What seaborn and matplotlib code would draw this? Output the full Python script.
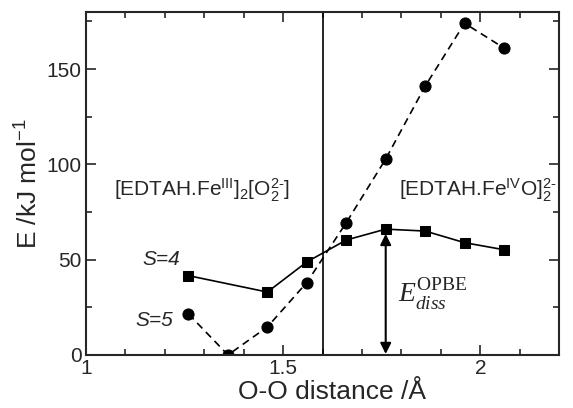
import numpy as np
import pandas as pd
import matplotlib
matplotlib.use("Agg")
import matplotlib.pyplot as plt
from matplotlib.ticker import MultipleLocator, FuncFormatter
import seaborn as sns

# O-O distance (Angstrom) and relative energies (kJ/mol)
dist = [1.26, 1.36, 1.46, 1.56, 1.66, 1.76, 1.86, 1.96, 2.06]
e_s5 = [21.5, 0.0, 14.7, 38.0, 69.4, 102.8, 141.0, 174.0, 161.0]
dist_s4 = [1.26, 1.46, 1.56, 1.66, 1.76, 1.86, 1.96, 2.06]
e_s4 = [41.6, 33.0, 48.8, 60.3, 66.0, 65.0, 58.9, 55.2]

sns.set_style("ticks")
plt.rcParams["font.family"] = ["Liberation Sans", "DejaVu Sans"]
plt.rcParams["mathtext.fontset"] = "custom"
plt.rcParams["mathtext.rm"] = "Liberation Sans"
plt.rcParams["mathtext.it"] = "Liberation Serif:italic"
plt.rcParams["mathtext.sf"] = "Liberation Serif"
plt.rcParams["mathtext.default"] = "rm"

fig = plt.figure(figsize=(5.73, 4.08), dpi=100)
ax = fig.add_axes([0.150, 0.130, 0.826, 0.841])

s5 = pd.DataFrame({"d": dist, "E": e_s5})
s4 = pd.DataFrame({"d": dist_s4, "E": e_s4})
sns.lineplot(data=s5, x="d", y="E", ax=ax, color="black", linestyle=(0, (4.5, 3)),
             lw=1.2, marker="o", markersize=8, markeredgecolor="black")
sns.lineplot(data=s4, x="d", y="E", ax=ax, color="black", lw=1.2,
             marker="s", markersize=7, markeredgecolor="black")

ax.axvline(1.6, color="black", lw=1.2)
ax.annotate("", xy=(1.76, 0.5), xytext=(1.76, 63.5),
            arrowprops=dict(arrowstyle="<|-|>", color="black", lw=1.5,
                            mutation_scale=16, shrinkA=0, shrinkB=0))

ax.text(1.79, 32, r"$\mathit{E}_{\mathit{diss}}^{\mathsf{OPBE}}$", fontsize=20,
        va="center", ha="left")
ax.text(1.24, 50, "S=4", fontstyle="italic", fontsize=15, ha="right", va="center")
ax.text(1.222, 18, "S=5", fontstyle="italic", fontsize=15, ha="right", va="center")
ax.text(1.071, 83, r"[EDTAH.Fe$^{III}$]$_2$[O$_2^{2\text{-}}$]", fontsize=15,
        ha="left", va="baseline")
ax.text(1.794, 83, r"[EDTAH.Fe$^{IV}$O]$_2^{2\text{-}}$", fontsize=15,
        ha="left", va="baseline")

ax.set_xlim(1, 2.2)
ax.set_ylim(0, 180)
ax.xaxis.set_major_locator(MultipleLocator(0.5))
ax.xaxis.set_minor_locator(MultipleLocator(0.1))
ax.yaxis.set_major_locator(MultipleLocator(50))
ax.yaxis.set_minor_locator(MultipleLocator(25))
ax.xaxis.set_major_formatter(FuncFormatter(lambda v, p: f"{v:g}"))
ax.tick_params(which="both", direction="in", top=True, right=True, width=1.2)
ax.tick_params(which="major", length=7, labelsize=15, pad=3)
ax.tick_params(which="minor", length=4)
for sp in ax.spines.values():
    sp.set_linewidth(1.5)

ax.set_xlabel("O-O distance /Å", fontsize=19, labelpad=1)
ax.xaxis.label.set_x(0.52)
ax.set_ylabel(r"E /kJ mol$^{-1}$", fontsize=19, labelpad=3)

fig.savefig("out.png", dpi=100)
